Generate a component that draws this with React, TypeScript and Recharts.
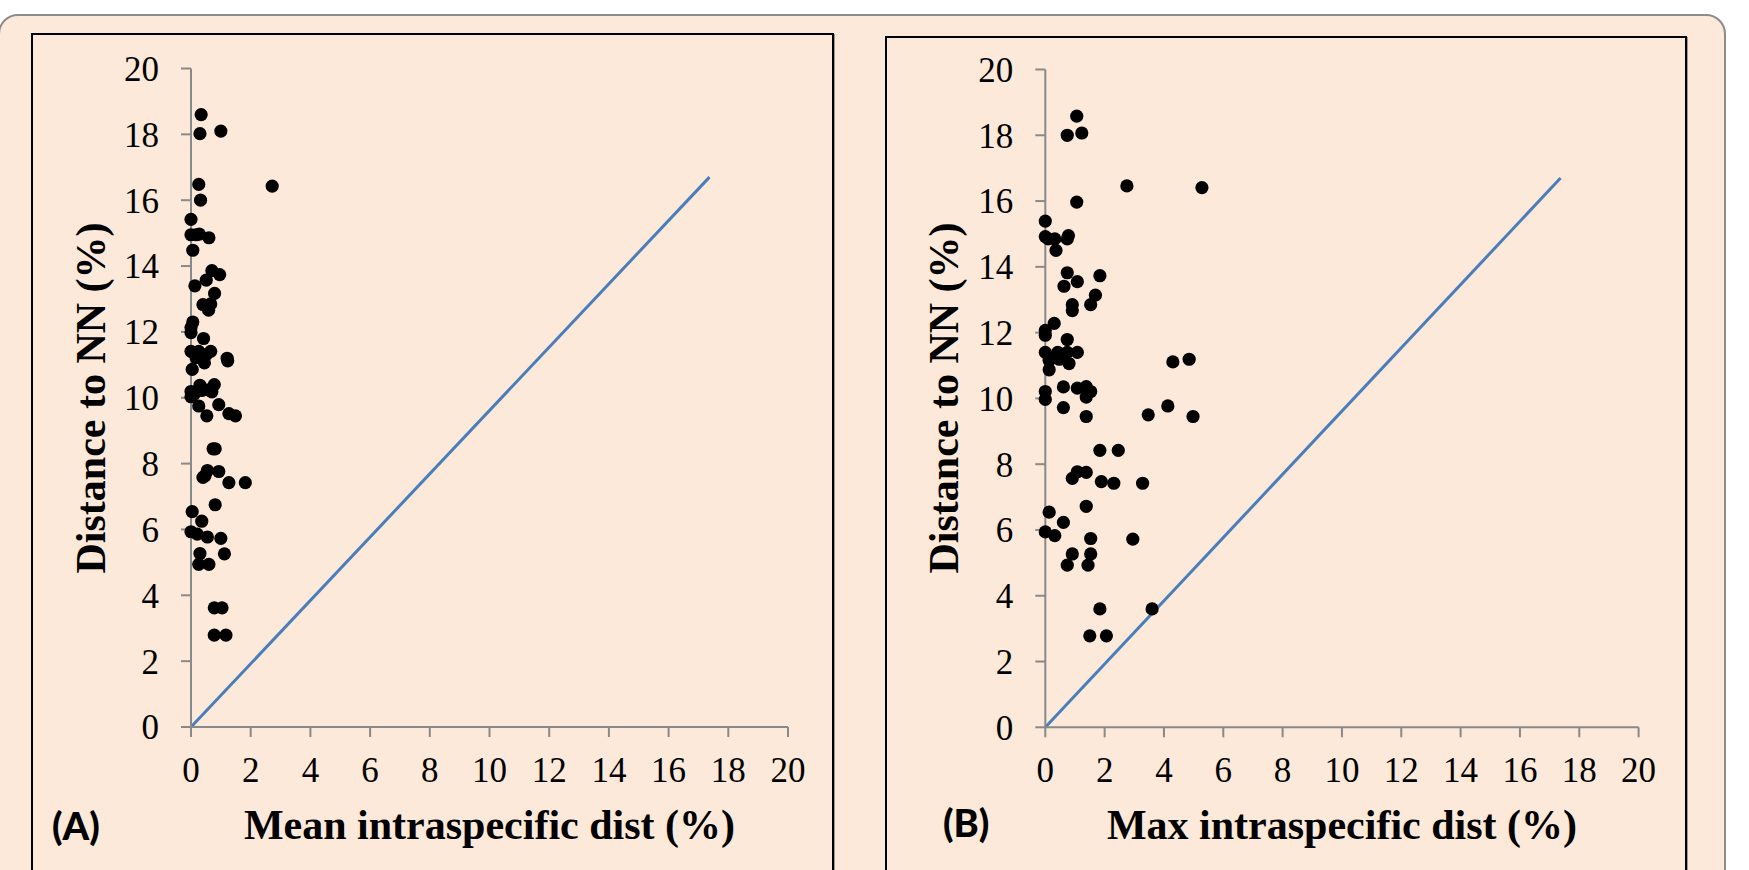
import React from 'react';
import { ScatterChart, Scatter, XAxis, YAxis, ReferenceLine } from 'recharts';

// Axis ticks (both panels)
const axisTicks = [0, 2, 4, 6, 8, 10, 12, 14, 16, 18, 20];

// Panel A: mean intraspecific distance (%) vs distance to nearest neighbour (%)
const meanIntra = [
  0.34, 0.3, 1.0, 2.72, 0.26, 0.32, 0.0, 0.0, 0.17, 0.28, 0.6, 0.06, 0.7, 0.96, 0.51, 0.13,
  0.79, 0.4, 0.66, 0.59, 0.06, 0.0, 0.0, 0.42, 0.0, 0.26, 0.66, 0.17, 0.45, 1.21, 1.23, 0.04,
  0.0, 0.0, 0.3, 0.78, 0.36, 0.59, 0.7, 0.26, 0.93, 0.53, 1.27, 1.49, 0.74, 0.81, 0.55, 0.93,
  0.4, 0.47, 1.27, 1.82, 0.81, 0.04, 0.36, 0.0, 0.21, 0.55, 1.0, 0.3, 1.12, 0.26, 0.6, 0.78,
  1.04, 0.78, 1.17, 0.1, 0.5,
];
const meanNN = [
  18.6, 18.02, 18.1, 16.43, 16.48, 16.0, 15.42, 14.95, 14.95, 14.97, 14.86, 14.48, 13.86, 13.74, 13.57, 13.4,
  13.17, 12.83, 12.85, 12.66, 12.3, 12.13, 11.98, 11.8, 11.41, 11.41, 11.41, 11.22, 11.06, 11.2, 11.12, 10.86,
  10.19, 10.03, 10.38, 10.4, 10.22, 10.24, 10.18, 9.75, 9.79, 9.45, 9.52, 9.45, 8.45, 8.45, 7.79, 7.76,
  7.58, 7.63, 7.42, 7.42, 6.75, 6.54, 6.25, 5.93, 5.86, 5.77, 5.73, 5.27, 5.26, 4.94, 4.94, 3.62,
  3.62, 2.79, 2.79, 10.1, 11.3,
];

// Panel B: maximum intraspecific distance (%) vs distance to nearest neighbour (%)
const maxIntra = [
  1.06, 0.74, 1.23, 2.75, 5.28, 1.06, 0.0, 0.0, 0.1, 0.32, 0.78, 0.74, 0.36, 0.74, 1.08, 1.84,
  0.63, 1.69, 0.91, 0.91, 1.53, 0.3, 0.0, 0.0, 0.74, 0.0, 0.42, 0.74, 1.08, 0.13, 0.47, 0.8,
  0.13, 4.3, 4.85, 0.0, 0.0, 0.61, 1.08, 1.38, 1.53, 1.38, 0.61, 1.38, 3.47, 4.13, 4.98, 1.84,
  2.46, 1.08, 1.38, 0.91, 1.89, 2.31, 3.28, 1.38, 0.13, 0.61, 0.0, 0.32, 1.53, 2.95, 0.91, 1.53,
  0.74, 1.44, 1.84, 3.6, 1.5, 2.06, 0.6, 0.25,
];
const maxNN = [
  18.58, 18.0, 18.07, 16.46, 16.41, 15.97, 15.39, 14.92, 14.85, 14.85, 14.95, 14.85, 14.5, 13.82, 13.55, 13.73,
  13.41, 13.14, 12.85, 12.67, 12.85, 12.28, 12.07, 11.92, 11.79, 11.4, 11.4, 11.4, 11.4, 11.16, 11.19, 11.06,
  10.87, 11.11, 11.19, 10.21, 9.97, 10.35, 10.31, 10.36, 10.21, 10.04, 9.72, 9.45, 9.5, 9.77, 9.45, 8.42,
  8.42, 7.77, 7.75, 7.57, 7.47, 7.42, 7.42, 6.72, 6.54, 6.23, 5.94, 5.83, 5.74, 5.72, 5.27, 5.27,
  4.93, 4.93, 3.6, 3.6, 2.78, 2.78, 11.3, 11.25,
];

// Diagonal reference line end points (x, y)
const diagX = [0, 17.37];
const diagY = [0, 16.7];

const dataA = meanIntra.map((x, i) => ({ x, y: meanNN[i] }));
const dataB = maxIntra.map((x, i) => ({ x, y: maxNN[i] }));
const diagSegment = diagX.map((x, i) => ({ x, y: diagY[i] }));

const AXIS_GREY = '#898989';
const TICK_FONT = { fill: '#000', fontSize: 35, fontFamily: '"Liberation Serif", "Times New Roman", serif' };
const TITLE_FONT = '"Liberation Serif", "Times New Roman", serif';

const Dot = (props: any) => <circle cx={props.cx} cy={props.cy} r={6.6} fill="#000" />;

function Panel(props: { data: { x: number; y: number }[]; width: number; height: number; margin: any }) {
  const { data, width, height, margin } = props;
  return (
    <ScatterChart width={width} height={height} margin={margin}>
      <XAxis
        type="number"
        dataKey="x"
        domain={[0, 20]}
        ticks={axisTicks}
        interval={0}
        height={60}
        tickSize={10}
        tickMargin={20}
        axisLine={{ stroke: AXIS_GREY, strokeWidth: 2 }}
        tickLine={{ stroke: AXIS_GREY, strokeWidth: 2 }}
        tick={TICK_FONT}
      />
      <YAxis
        type="number"
        dataKey="y"
        domain={[0, 20]}
        ticks={axisTicks}
        interval={0}
        width={60}
        tickSize={10}
        tickMargin={22}
        axisLine={{ stroke: AXIS_GREY, strokeWidth: 2 }}
        tickLine={{ stroke: AXIS_GREY, strokeWidth: 2 }}
        tick={TICK_FONT}
      />
      <ReferenceLine segment={diagSegment} stroke="#4A7EBB" strokeWidth={3} ifOverflow="visible" />
      <Scatter data={data} shape={Dot} isAnimationActive={false} />
    </ScatterChart>
  );
}

export default function App() {
  return (
    <div
      style={{
        position: 'fixed',
        left: 0,
        top: 0,
        width: 1749,
        height: 870,
        overflow: 'hidden',
        background: '#ffffff',
      }}
    >
      {/* outer rounded frame */}
      <div
        style={{
          position: 'absolute',
          left: -2,
          top: 13.5,
          width: 1728,
          height: 920,
          boxSizing: 'border-box',
          border: '2px solid #8c8c8c',
          borderRadius: 20,
          background: '#FDE9D9',
        }}
      />
      {/* panel frames */}
      <div
        style={{
          position: 'absolute',
          left: 31.3,
          top: 33.3,
          width: 803,
          height: 900,
          boxSizing: 'border-box',
          border: '2px solid #000',
          boxShadow: '1px 1px 0 #9a9a9a',
        }}
      />
      <div
        style={{
          position: 'absolute',
          left: 885,
          top: 36,
          width: 802,
          height: 900,
          boxSizing: 'border-box',
          border: '2px solid #000',
          boxShadow: '1px 1px 0 #9a9a9a',
        }}
      />
      {/* Panel A chart */}
      <div style={{ position: 'absolute', left: 0, top: 0 }}>
        <Panel data={dataA} width={880} height={870} margin={{ top: 68.5, right: 92, bottom: 83, left: 131 }} />
      </div>
      {/* Panel B chart */}
      <div style={{ position: 'absolute', left: 880, top: 0 }}>
        <Panel data={dataB} width={869} height={870} margin={{ top: 69.5, right: 110.4, bottom: 82.7, left: 105.3 }} />
      </div>
      {/* titles */}
      <svg
        width={1749}
        height={870}
        style={{ position: 'absolute', left: 0, top: 0, pointerEvents: 'none' }}
      >
        <text
          x={0}
          y={0}
          transform="translate(105,398) rotate(-90)"
          textAnchor="middle"
          fontFamily={TITLE_FONT}
          fontWeight="bold"
          fontSize={42}
          fill="#000"
        >
          Distance to NN (%)
        </text>
        <text
          x={0}
          y={0}
          transform="translate(958,398) rotate(-90)"
          textAnchor="middle"
          fontFamily={TITLE_FONT}
          fontWeight="bold"
          fontSize={42}
          fill="#000"
        >
          Distance to NN (%)
        </text>
        <text x={489.5} y={839} textAnchor="middle" fontFamily={TITLE_FONT} fontWeight="bold" fontSize={42} fill="#000">
          Mean intraspecific dist (%)
        </text>
        <text x={1342} y={839} textAnchor="middle" fontFamily={TITLE_FONT} fontWeight="bold" fontSize={42} fill="#000">
          Max intraspecific dist (%)
        </text>
        <text x={52} y={840} fontFamily="Lato, 'Open Sans', sans-serif" fontWeight={900} fontSize={38} fill="#000">
          (A)
        </text>
        <text x={943} y={837} fontFamily="Lato, 'Open Sans', sans-serif" fontWeight={900} fontSize={38} fill="#000">
          (B)
        </text>
      </svg>
    </div>
  );
}
